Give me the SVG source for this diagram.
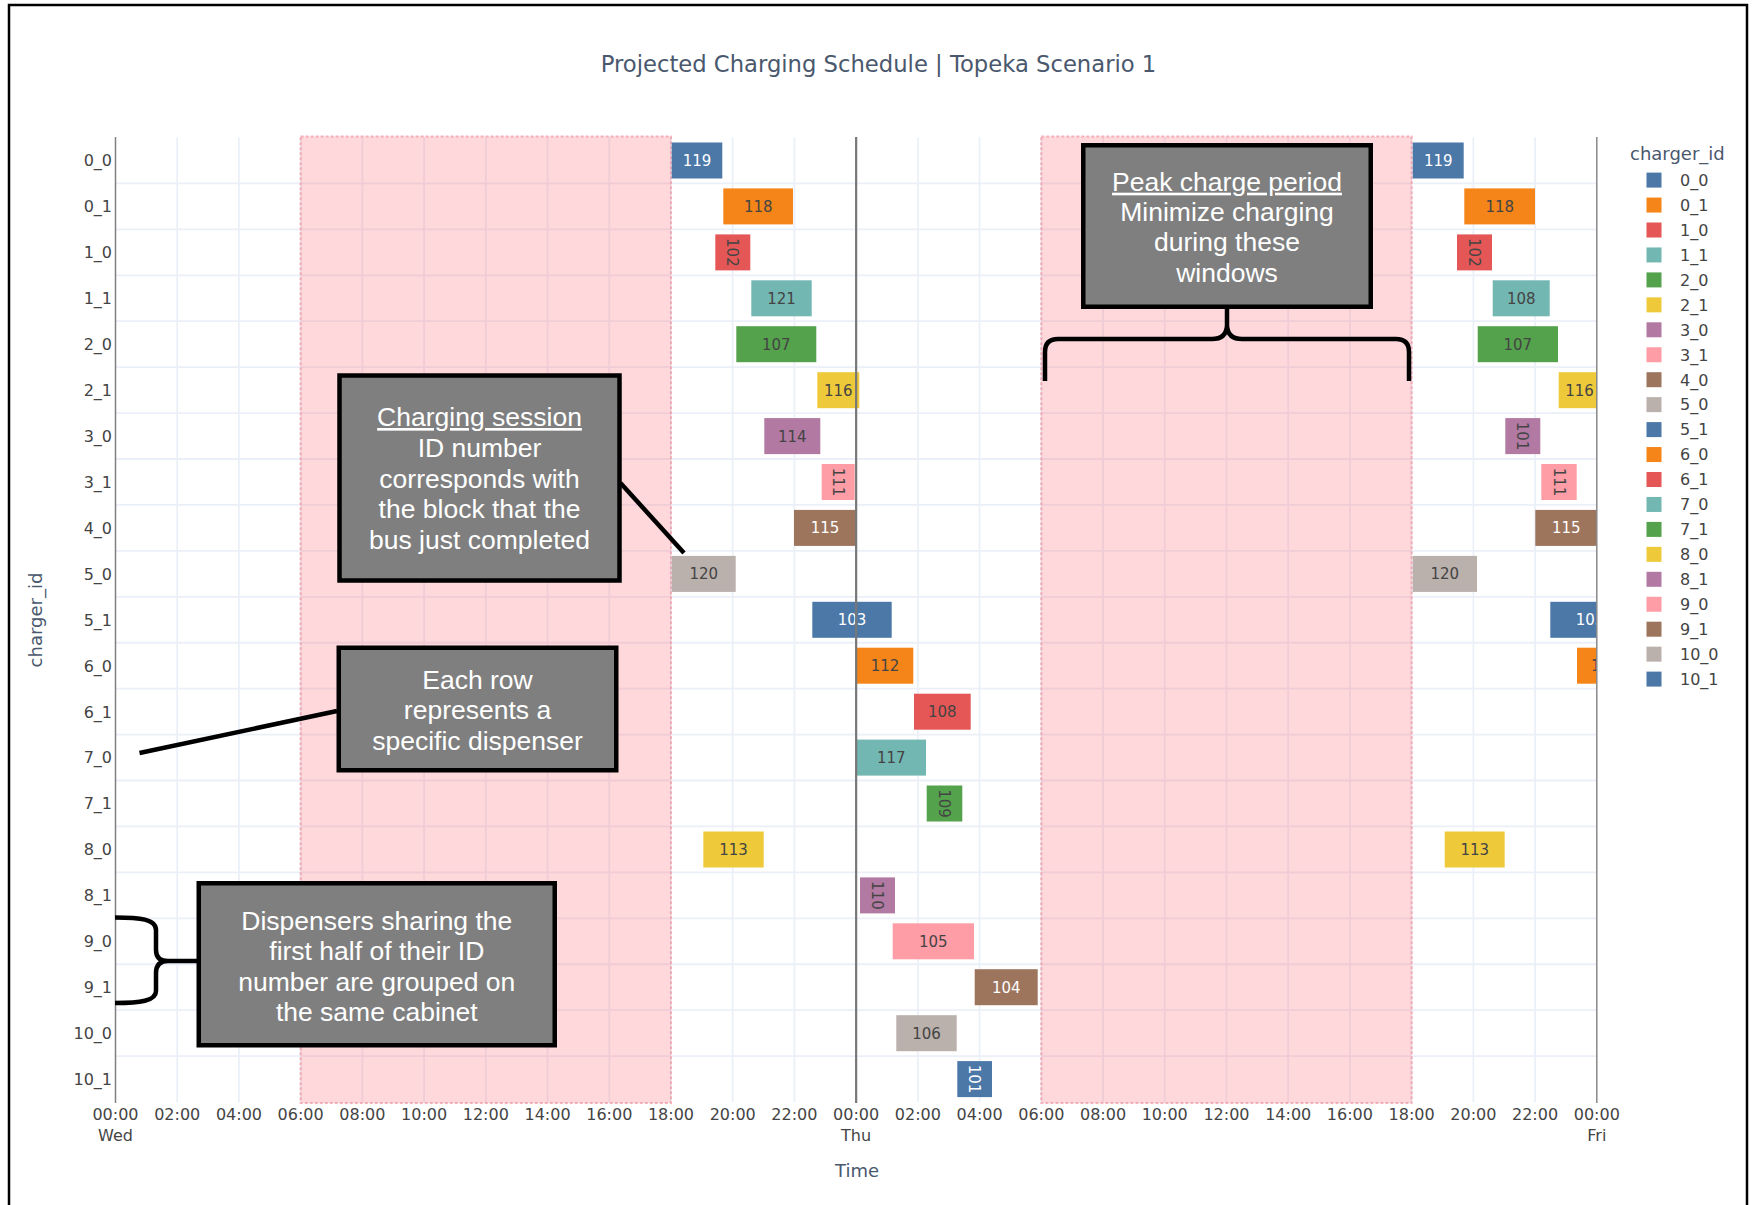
<svg xmlns="http://www.w3.org/2000/svg" width="1754" height="1205" viewBox="0 0 1754 1205">
<style>
.t{font-family:"DejaVu Sans",Verdana,sans-serif;fill:#4a586e}
.tk{font-size:16px;fill:#444}
.bl{font-family:"DejaVu Sans",Verdana,sans-serif;font-size:15px;text-anchor:middle}
.dk{fill:#444}
.wt{fill:#fff}
.g line{stroke:#ebf0f8;stroke-width:1.8}
.pk{fill:rgb(255,60,80);fill-opacity:0.2;stroke:rgb(240,150,160);stroke-opacity:0.7;stroke-width:2;stroke-dasharray:3 2}
.box{fill:#7f7f7f;stroke:#000;stroke-width:4.5}
.ct{font-family:"Liberation Sans",Arial,sans-serif;font-size:26.5px;fill:#fff;text-anchor:middle}
.cn{stroke:#000;stroke-width:4.5;fill:none;stroke-linejoin:round}
.c0{fill:#4C78A8}.c1{fill:#F58518}.c2{fill:#E45756}.c3{fill:#72B7B2}.c4{fill:#54A24B}
.c5{fill:#EECA3B}.c6{fill:#B279A2}.c7{fill:#FF9DA6}.c8{fill:#9D755D}.c9{fill:#BAB0AC}
</style>
<defs>
<clipPath id="plot"><rect x="115.5" y="136" width="1481.3" height="968"/></clipPath>
</defs>
<rect x="0" y="0" width="1754" height="1205" fill="#fff"/>
<rect x="9" y="5" width="1738" height="1215" fill="none" stroke="#000" stroke-width="2.5"/>
<text class="t" x="878.5" y="72" font-size="22.7" text-anchor="middle">Projected Charging Schedule | Topeka Scenario 1</text>

<g id="grid" class="g">
<line x1="177.22" y1="137.5" x2="177.22" y2="1102"/><line x1="238.94" y1="137.5" x2="238.94" y2="1102"/>
<line x1="300.66" y1="137.5" x2="300.66" y2="1102"/><line x1="362.38" y1="137.5" x2="362.38" y2="1102"/>
<line x1="424.1" y1="137.5" x2="424.1" y2="1102"/><line x1="485.82" y1="137.5" x2="485.82" y2="1102"/>
<line x1="547.54" y1="137.5" x2="547.54" y2="1102"/><line x1="609.26" y1="137.5" x2="609.26" y2="1102"/>
<line x1="670.98" y1="137.5" x2="670.98" y2="1102"/><line x1="732.7" y1="137.5" x2="732.7" y2="1102"/>
<line x1="794.42" y1="137.5" x2="794.42" y2="1102"/><line x1="917.86" y1="137.5" x2="917.86" y2="1102"/>
<line x1="979.58" y1="137.5" x2="979.58" y2="1102"/><line x1="1041.3" y1="137.5" x2="1041.3" y2="1102"/>
<line x1="1103.02" y1="137.5" x2="1103.02" y2="1102"/><line x1="1164.74" y1="137.5" x2="1164.74" y2="1102"/>
<line x1="1226.46" y1="137.5" x2="1226.46" y2="1102"/><line x1="1288.18" y1="137.5" x2="1288.18" y2="1102"/>
<line x1="1349.9" y1="137.5" x2="1349.9" y2="1102"/><line x1="1411.62" y1="137.5" x2="1411.62" y2="1102"/>
<line x1="1473.34" y1="137.5" x2="1473.34" y2="1102"/><line x1="1535.06" y1="137.5" x2="1535.06" y2="1102"/>
<line x1="115.5" y1="183.43" x2="1596.8" y2="183.43"/><line x1="115.5" y1="229.36" x2="1596.8" y2="229.36"/>
<line x1="115.5" y1="275.29" x2="1596.8" y2="275.29"/><line x1="115.5" y1="321.22" x2="1596.8" y2="321.22"/>
<line x1="115.5" y1="367.15" x2="1596.8" y2="367.15"/><line x1="115.5" y1="413.08" x2="1596.8" y2="413.08"/>
<line x1="115.5" y1="459.01" x2="1596.8" y2="459.01"/><line x1="115.5" y1="504.94" x2="1596.8" y2="504.94"/>
<line x1="115.5" y1="550.87" x2="1596.8" y2="550.87"/><line x1="115.5" y1="596.8" x2="1596.8" y2="596.8"/>
<line x1="115.5" y1="642.73" x2="1596.8" y2="642.73"/><line x1="115.5" y1="688.66" x2="1596.8" y2="688.66"/>
<line x1="115.5" y1="734.59" x2="1596.8" y2="734.59"/><line x1="115.5" y1="780.52" x2="1596.8" y2="780.52"/>
<line x1="115.5" y1="826.45" x2="1596.8" y2="826.45"/><line x1="115.5" y1="872.38" x2="1596.8" y2="872.38"/>
<line x1="115.5" y1="918.31" x2="1596.8" y2="918.31"/><line x1="115.5" y1="964.24" x2="1596.8" y2="964.24"/>
<line x1="115.5" y1="1010.17" x2="1596.8" y2="1010.17"/><line x1="115.5" y1="1056.1" x2="1596.8" y2="1056.1"/>
</g>

<g id="peak-periods">
<rect class="pk" x="300.66" y="136.5" width="370.32" height="966.5"/>
<rect class="pk" x="1041.3" y="136.5" width="370.32" height="966.5"/>
</g>

<g id="bars" clip-path="url(#plot)">
<rect class="c0" x="671.7" y="142.5" width="50.6" height="36"/><text class="bl wt" x="697" y="166">119</text>
<rect class="c1" x="723.3" y="188.4" width="69.7" height="36"/><text class="bl dk" x="758.2" y="211.9">118</text>
<rect class="c2" x="715.3" y="234.4" width="35" height="36"/><text class="bl dk" transform="translate(732.8 252.36) rotate(90)" x="0" y="5.5">102</text>
<rect class="c3" x="751.3" y="280.3" width="60.4" height="36"/><text class="bl dk" x="781.5" y="303.8">121</text>
<rect class="c4" x="736.3" y="326.2" width="80" height="36"/><text class="bl dk" x="776.3" y="349.7">107</text>
<rect class="c5" x="817.3" y="372.2" width="42" height="36"/><text class="bl dk" x="838.3" y="395.7">116</text>
<rect class="c6" x="764.3" y="418.1" width="56" height="36"/><text class="bl dk" x="792.3" y="441.6">114</text>
<rect class="c7" x="821.7" y="464" width="33" height="36"/><text class="bl dk" transform="translate(838.2 482.01) rotate(90)" x="0" y="5.5">111</text>
<rect class="c8" x="794" y="509.9" width="62" height="36"/><text class="bl wt" x="825" y="533.4">115</text>
<rect class="c9" x="671.7" y="555.9" width="64" height="36"/><text class="bl dk" x="703.7" y="579.4">120</text>
<rect class="c0" x="812.3" y="601.8" width="79.4" height="36"/><text class="bl wt" x="852" y="625.3">103</text>
<rect class="c1" x="856.7" y="647.7" width="56.6" height="36"/><text class="bl dk" x="885" y="671.2">112</text>
<rect class="c2" x="914" y="693.7" width="56.7" height="36"/><text class="bl dk" x="942.3" y="717.2">108</text>
<rect class="c3" x="856.7" y="739.6" width="69.3" height="36"/><text class="bl dk" x="891.3" y="763.1">117</text>
<rect class="c4" x="926.7" y="785.5" width="35.6" height="36"/><text class="bl dk" transform="translate(944.5 803.52) rotate(90)" x="0" y="5.5">109</text>
<rect class="c5" x="703.3" y="831.5" width="60.4" height="36"/><text class="bl dk" x="733.5" y="855">113</text>
<rect class="c6" x="860" y="877.4" width="35" height="36"/><text class="bl dk" transform="translate(877.5 895.38) rotate(90)" x="0" y="5.5">110</text>
<rect class="c7" x="892.7" y="923.3" width="81.3" height="36"/><text class="bl dk" x="933.3" y="946.8">105</text>
<rect class="c8" x="974.7" y="969.2" width="63" height="36"/><text class="bl wt" x="1006.2" y="992.7">104</text>
<rect class="c9" x="896.3" y="1015.2" width="60.4" height="36"/><text class="bl dk" x="926.5" y="1038.7">106</text>
<rect class="c0" x="957.3" y="1061.1" width="34.7" height="36"/><text class="bl wt" transform="translate(974.7 1079.1) rotate(90)" x="0" y="5.5">101</text>

<rect class="c0" x="1412.7" y="142.5" width="51" height="36"/><text class="bl wt" x="1438.2" y="166">119</text>
<rect class="c1" x="1464.3" y="188.4" width="70.7" height="36"/><text class="bl dk" x="1499.7" y="211.9">118</text>
<rect class="c2" x="1457" y="234.4" width="35" height="36"/><text class="bl dk" transform="translate(1474.5 252.36) rotate(90)" x="0" y="5.5">102</text>
<rect class="c3" x="1492.7" y="280.3" width="57" height="36"/><text class="bl dk" x="1521.2" y="303.8">108</text>
<rect class="c4" x="1477.7" y="326.2" width="80.3" height="36"/><text class="bl dk" x="1517.8" y="349.7">107</text>
<rect class="c5" x="1558.7" y="372.2" width="41.6" height="36"/><text class="bl dk" x="1579.5" y="395.7">116</text>
<rect class="c6" x="1505.3" y="418.1" width="35" height="36"/><text class="bl dk" transform="translate(1522.8 436.08) rotate(90)" x="0" y="5.5">101</text>
<rect class="c7" x="1541.3" y="464" width="35.4" height="36"/><text class="bl dk" transform="translate(1559 482.01) rotate(90)" x="0" y="5.5">111</text>
<rect class="c8" x="1535.3" y="509.9" width="62" height="36"/><text class="bl wt" x="1566.3" y="533.4">115</text>
<rect class="c9" x="1412.7" y="555.9" width="64.3" height="36"/><text class="bl dk" x="1444.8" y="579.4">120</text>
<rect class="c0" x="1550.3" y="601.8" width="79.4" height="36"/><text class="bl wt" x="1590" y="625.3">103</text>
<rect class="c1" x="1577" y="647.7" width="56.6" height="36"/><text class="bl dk" x="1605.3" y="671.2">112</text>
<rect class="c5" x="1444.7" y="831.5" width="60" height="36"/><text class="bl dk" x="1474.7" y="855">113</text>
</g>

<g id="day-lines">
<line x1="115.5" y1="137" x2="115.5" y2="1103" stroke="#808080" stroke-width="1.5"/>
<line x1="856.14" y1="137" x2="856.14" y2="1103" stroke="#777" stroke-width="2.2"/>
<line x1="1596.8" y1="137" x2="1596.8" y2="1103" stroke="#888" stroke-width="1.5"/>
</g>

<g id="y-ticks" class="t tk" text-anchor="end">
<text x="112" y="166.3">0_0</text><text x="112" y="212.2">0_1</text><text x="112" y="258.2">1_0</text>
<text x="112" y="304.1">1_1</text><text x="112" y="350">2_0</text><text x="112" y="396">2_1</text>
<text x="112" y="441.9">3_0</text><text x="112" y="487.8">3_1</text><text x="112" y="533.7">4_0</text>
<text x="112" y="579.7">5_0</text><text x="112" y="625.6">5_1</text><text x="112" y="671.5">6_0</text>
<text x="112" y="717.5">6_1</text><text x="112" y="763.4">7_0</text><text x="112" y="809.3">7_1</text>
<text x="112" y="855.3">8_0</text><text x="112" y="901.2">8_1</text><text x="112" y="947.1">9_0</text>
<text x="112" y="993">9_1</text><text x="112" y="1039">10_0</text><text x="112" y="1084.9">10_1</text>
</g>

<g id="x-ticks" class="t tk" text-anchor="middle">
<text x="115.5" y="1120">00:00</text><text x="177.22" y="1120">02:00</text><text x="238.94" y="1120">04:00</text>
<text x="300.66" y="1120">06:00</text><text x="362.38" y="1120">08:00</text><text x="424.1" y="1120">10:00</text>
<text x="485.82" y="1120">12:00</text><text x="547.54" y="1120">14:00</text><text x="609.26" y="1120">16:00</text>
<text x="670.98" y="1120">18:00</text><text x="732.7" y="1120">20:00</text><text x="794.42" y="1120">22:00</text>
<text x="856.14" y="1120">00:00</text><text x="917.86" y="1120">02:00</text><text x="979.58" y="1120">04:00</text>
<text x="1041.3" y="1120">06:00</text><text x="1103.02" y="1120">08:00</text><text x="1164.74" y="1120">10:00</text>
<text x="1226.46" y="1120">12:00</text><text x="1288.18" y="1120">14:00</text><text x="1349.9" y="1120">16:00</text>
<text x="1411.62" y="1120">18:00</text><text x="1473.34" y="1120">20:00</text><text x="1535.06" y="1120">22:00</text>
<text x="1596.8" y="1120">00:00</text>
<text x="115.5" y="1141">Wed</text><text x="856.14" y="1141">Thu</text><text x="1596.8" y="1141">Fri</text>
</g>

<text class="t" x="857" y="1177" font-size="18" text-anchor="middle">Time</text>
<text class="t" transform="translate(41.5 620) rotate(-90)" x="0" y="0" font-size="18" text-anchor="middle">charger_id</text>

<g id="legend">
<text class="t" x="1630" y="160" font-size="18">charger_id</text>
<rect class="c0" x="1646.5" y="172.6" width="15" height="15"/><text class="t tk" x="1680" y="185.9">0_0</text>
<rect class="c1" x="1646.5" y="197.55" width="15" height="15"/><text class="t tk" x="1680" y="210.85">0_1</text>
<rect class="c2" x="1646.5" y="222.5" width="15" height="15"/><text class="t tk" x="1680" y="235.8">1_0</text>
<rect class="c3" x="1646.5" y="247.45" width="15" height="15"/><text class="t tk" x="1680" y="260.75">1_1</text>
<rect class="c4" x="1646.5" y="272.4" width="15" height="15"/><text class="t tk" x="1680" y="285.7">2_0</text>
<rect class="c5" x="1646.5" y="297.35" width="15" height="15"/><text class="t tk" x="1680" y="310.65">2_1</text>
<rect class="c6" x="1646.5" y="322.3" width="15" height="15"/><text class="t tk" x="1680" y="335.6">3_0</text>
<rect class="c7" x="1646.5" y="347.25" width="15" height="15"/><text class="t tk" x="1680" y="360.55">3_1</text>
<rect class="c8" x="1646.5" y="372.2" width="15" height="15"/><text class="t tk" x="1680" y="385.5">4_0</text>
<rect class="c9" x="1646.5" y="397.15" width="15" height="15"/><text class="t tk" x="1680" y="410.45">5_0</text>
<rect class="c0" x="1646.5" y="422.1" width="15" height="15"/><text class="t tk" x="1680" y="435.4">5_1</text>
<rect class="c1" x="1646.5" y="447.05" width="15" height="15"/><text class="t tk" x="1680" y="460.35">6_0</text>
<rect class="c2" x="1646.5" y="472" width="15" height="15"/><text class="t tk" x="1680" y="485.3">6_1</text>
<rect class="c3" x="1646.5" y="496.95" width="15" height="15"/><text class="t tk" x="1680" y="510.25">7_0</text>
<rect class="c4" x="1646.5" y="521.9" width="15" height="15"/><text class="t tk" x="1680" y="535.2">7_1</text>
<rect class="c5" x="1646.5" y="546.85" width="15" height="15"/><text class="t tk" x="1680" y="560.15">8_0</text>
<rect class="c6" x="1646.5" y="571.8" width="15" height="15"/><text class="t tk" x="1680" y="585.1">8_1</text>
<rect class="c7" x="1646.5" y="596.75" width="15" height="15"/><text class="t tk" x="1680" y="610.05">9_0</text>
<rect class="c8" x="1646.5" y="621.7" width="15" height="15"/><text class="t tk" x="1680" y="635">9_1</text>
<rect class="c9" x="1646.5" y="646.65" width="15" height="15"/><text class="t tk" x="1680" y="659.95">10_0</text>
<rect class="c0" x="1646.5" y="671.6" width="15" height="15"/><text class="t tk" x="1680" y="684.9">10_1</text>
</g>

<g id="connectors">
<line class="cn" x1="620.5" y1="483" x2="684" y2="553"/>
<line class="cn" x1="337" y1="711" x2="139.5" y2="753"/>
<path class="cn" d="M1045 381 L1045 352 Q1045 339 1058 339 L1212 339 Q1226 339 1227 326 L1227 309 M1227 326 Q1228 339 1242 339 L1396 339 Q1409 339 1409 352 L1409 381"/>
<path class="cn" d="M115 917.5 C140 917.5 156 919 156 930 L156 950 Q156 961 168 961 L197 961 M168 961 Q156 961 156 973 L156 991 C156 1001 140 1003 115 1003"/>
</g>

<g id="callout-session">
<rect class="box" x="339.5" y="375.5" width="280" height="205"/>
<text class="ct" x="479.5" y="426" text-decoration="underline">Charging session</text>
<text class="ct" x="479.5" y="456.8">ID number</text>
<text class="ct" x="479.5" y="487.6">corresponds with</text>
<text class="ct" x="479.5" y="518.4">the block that the</text>
<text class="ct" x="479.5" y="549.2">bus just completed</text>
</g>

<g id="callout-row">
<rect class="box" x="338.75" y="647.75" width="277.5" height="122.5"/>
<text class="ct" x="477.5" y="688.5">Each row</text>
<text class="ct" x="477.5" y="719">represents a</text>
<text class="ct" x="477.5" y="749.5">specific dispenser</text>
</g>

<g id="callout-peak">
<rect class="box" x="1083.25" y="145.25" width="287.5" height="161.5"/>
<text class="ct" x="1227" y="190.7" text-decoration="underline">Peak charge period</text>
<text class="ct" x="1227" y="221">Minimize charging</text>
<text class="ct" x="1227" y="251.3">during these</text>
<text class="ct" x="1227" y="281.5">windows</text>
</g>

<g id="callout-cabinet">
<rect class="box" x="198.75" y="883.25" width="356" height="162"/>
<text class="ct" x="376.8" y="929.5">Dispensers sharing the</text>
<text class="ct" x="376.8" y="960">first half of their ID</text>
<text class="ct" x="376.8" y="990.5">number are grouped on</text>
<text class="ct" x="376.8" y="1021">the same cabinet</text>
</g>
</svg>
